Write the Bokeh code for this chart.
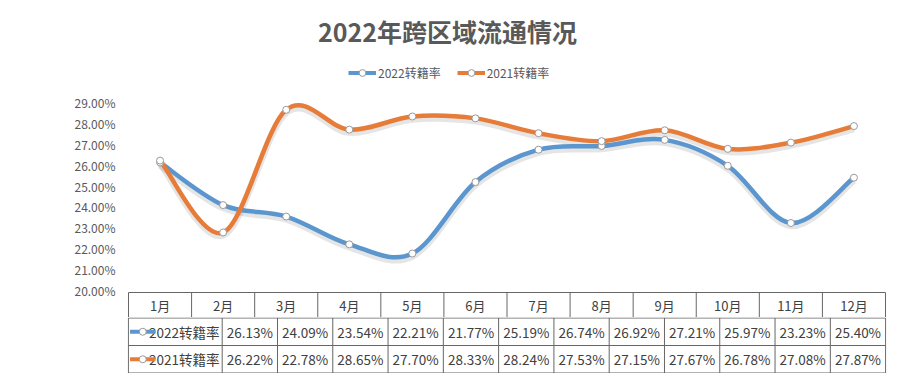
from bokeh.plotting import figure
from bokeh.models import Range1d, FixedTicker, PrintfTickFormatter, Legend, LegendItem, Label, ColumnDataSource
from bokeh.layouts import column
from bokeh.embed import file_html
from bokeh.resources import INLINE
from bokeh.core.properties import value
import numpy as np

# ---------------- data ----------------
title_text = "2022年跨区域流通情况"
months = ["1月", "2月", "3月", "4月", "5月", "6月", "7月", "8月", "9月", "10月", "11月", "12月"]
series_names = ["2022转籍率", "2021转籍率"]
rate_2022 = [26.13, 24.09, 23.54, 22.21, 21.77, 25.19, 26.74, 26.92, 27.21, 25.97, 23.23, 25.40]
rate_2021 = [26.22, 22.78, 28.65, 27.70, 28.33, 28.24, 27.53, 27.15, 27.67, 26.78, 27.08, 27.87]
y_ticks = [20, 21, 22, 23, 24, 25, 26, 27, 28, 29]

# ---------------- style ----------------
FONT = "Noto Sans CJK SC"
BLUE = "#5B96CE"
ORANGE = "#E67C37"
TXT = "#595959"
CELL_TXT = "#404040"
BORDER = "#666666"
MARK_EDGE = "#9a9a9a"

PPU = (290 - 102) / 9.0          # pixels per percentage point
Y_MIN = 20 - 27 / PPU            # bottom of the header row
Y_TOP = 29 + 102 / PPU           # top of the canvas
HDR_TOP = 20 - 2 / PPU
XPAD = 0.016
LABEL_W = 1.697

xs = np.arange(len(months)) + 0.5


def bezier_cps(x, y):
    x = np.asarray(x, float)
    y = np.asarray(y, float)
    n = len(x)
    out = dict(x0=[], y0=[], x1=[], y1=[], cx0=[], cy0=[], cx1=[], cy1=[])
    for i in range(n - 1):
        ip = max(i - 1, 0)
        inn = min(i + 2, n - 1)
        out["x0"].append(x[i]); out["y0"].append(y[i])
        out["x1"].append(x[i + 1]); out["y1"].append(y[i + 1])
        out["cx0"].append(x[i] + (x[i + 1] - x[ip]) / 6)
        out["cy0"].append(y[i] + (y[i + 1] - y[ip]) / 6)
        out["cx1"].append(x[i + 1] - (x[inn] - x[i]) / 6)
        out["cy1"].append(y[i + 1] - (y[inn] - y[i]) / 6)
    return out


# ---------------- chart figure ----------------
p = figure(width=897, height=317, output_backend="svg", toolbar_location=None,
           title=None, x_range=Range1d(-XPAD, len(months) + XPAD), y_range=Range1d(Y_MIN, Y_TOP),
           x_axis_location=None, min_border_left=127, min_border_right=11,
           min_border_top=0, min_border_bottom=0)
p.outline_line_color = None
p.grid.visible = False
p.background_fill_color = "white"
p.border_fill_color = "white"

ax = p.yaxis[0]
ax.ticker = FixedTicker(ticks=y_ticks)
ax.formatter = PrintfTickFormatter(format="%.2f%%")
ax.axis_line_color = None
ax.major_tick_line_color = None
ax.minor_tick_line_color = None
ax.major_tick_out = 0
ax.major_tick_in = 0
ax.major_label_standoff = 12
ax.major_label_text_font = FONT
ax.major_label_text_font_size = "12px"
ax.major_label_text_color = TXT

series = [(rate_2022, BLUE), (rate_2021, ORANGE)]
# shadows
for vals, col in series:
    cp = bezier_cps(xs, np.asarray(vals) - 0.13)
    p.bezier(source=ColumnDataSource(cp), x0="x0", y0="y0", x1="x1", y1="y1",
             cx0="cx0", cy0="cy0", cx1="cx1", cy1="cy1",
             line_color="#000000", line_alpha=0.10, line_width=7)
for vals, col in series:
    cp = bezier_cps(xs, vals)
    p.bezier(source=ColumnDataSource(cp), x0="x0", y0="y0", x1="x1", y1="y1",
             cx0="cx0", cy0="cy0", cx1="cx1", cy1="cy1",
             line_color=col, line_width=4.5)
for vals, col in series:
    p.scatter(xs, vals, size=7, marker="circle", fill_color="white", line_color=MARK_EDGE, line_width=1)

# legend (renderers with no visible data, only used for legend swatches)
items = []
for name, (vals, col) in zip(series_names, series):
    r1 = p.line(x=[np.nan], y=[np.nan], line_color=col, line_width=4)
    r2 = p.scatter(x=[np.nan], y=[np.nan], size=7, marker="circle", fill_color="white",
                   line_color=MARK_EDGE, line_width=1)
    items.append(LegendItem(label=name, renderers=[r1, r2]))
legend = Legend(items=items, orientation="horizontal", location=(221, 236),
                glyph_width=28, glyph_height=17, label_standoff=2, spacing=16,
                padding=0, margin=0, background_fill_alpha=0, border_line_color=None,
                label_text_font=FONT, label_text_font_size="12px", label_text_color=TXT)
p.add_layout(legend, "center")

# title
p.add_layout(Label(x=320, y=287, x_units="screen", y_units="screen", text=title_text,
                   text_align="center", text_baseline="middle", text_font=FONT,
                   text_font_style="bold", text_font_size="25px", text_color=TXT))

# table header row (months)
p.segment(x0=[0], y0=[HDR_TOP], x1=[len(months)], y1=[HDR_TOP], line_color=BORDER, line_width=1)
vx = np.arange(len(months) + 1)
p.segment(x0=vx, y0=[Y_MIN] * len(vx), x1=vx, y1=[HDR_TOP] * len(vx), line_color=BORDER, line_width=1)
p.text(x=xs, y=[(HDR_TOP + Y_MIN) / 2] * len(months), text=months, text_align="center",
       text_baseline="middle", text_font=value(FONT), text_font_size="13px", text_color=CELL_TXT)

# ---------------- table figure ----------------
t = figure(width=897, height=56, output_backend="svg", toolbar_location=None, title=None,
           x_range=Range1d(-LABEL_W - XPAD, len(months) + XPAD), y_range=Range1d(-0.018, 2.018),
           x_axis_location=None, y_axis_location=None, min_border_left=20, min_border_right=11,
           min_border_top=0, min_border_bottom=0)
t.outline_line_color = None
t.grid.visible = False
t.background_fill_color = "white"
t.border_fill_color = "white"

hy = [0, 1, 2]
t.segment(x0=[-LABEL_W] * 3, y0=hy, x1=[len(months)] * 3, y1=hy, line_color=BORDER, line_width=1)
tvx = [-LABEL_W] + list(range(len(months) + 1))
t.segment(x0=tvx, y0=[0] * len(tvx), x1=tvx, y1=[2] * len(tvx), line_color=BORDER, line_width=1)

for row, (name, (vals, col)) in enumerate(zip(series_names, series)):
    yc = 1.5 - row
    t.text(x=xs, y=[yc] * len(vals), text=[f"{v:.2f}%" for v in vals], text_align="center",
           text_baseline="middle", text_font=value(FONT), text_font_size="13.5px", text_color=CELL_TXT)
    t.text(x=[-0.05], y=[yc], text=[name], text_align="right", text_baseline="middle",
           text_font=value(FONT), text_font_size="13.5px", text_color=CELL_TXT)
    t.segment(x0=[-LABEL_W + 0.03], y0=[yc], x1=[-LABEL_W + 0.49], y1=[yc], line_color=col, line_width=4)
    t.scatter(x=[-LABEL_W + 0.26], y=[yc], size=7, marker="circle", fill_color="white",
              line_color=MARK_EDGE, line_width=1)

layout = column(p, t, spacing=0)
open("out.html", "w").write(file_html(layout, INLINE))
